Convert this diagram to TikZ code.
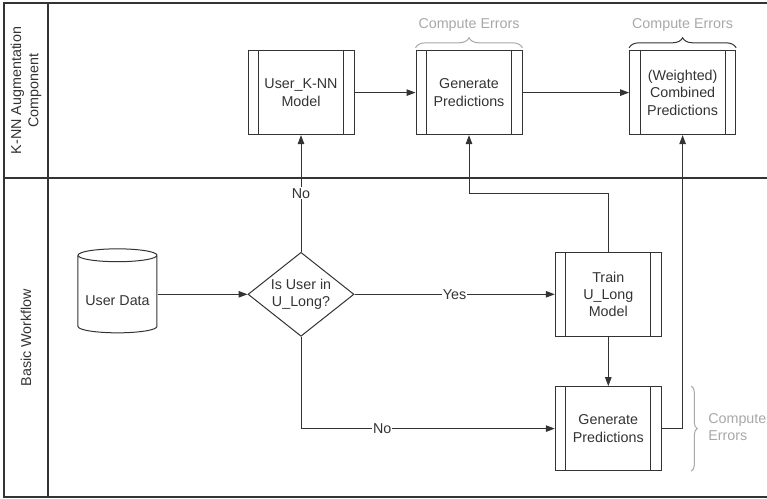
\documentclass[tikz,border=0pt]{standalone}
\usepackage{fontspec}
\setmainfont{Liberation Sans}
\usetikzlibrary{shapes.geometric,arrows.meta,positioning,decorations.pathreplacing,calc}
\definecolor{tinta}{HTML}{333333}
\definecolor{grisnota}{HTML}{A8A8A8}
\newcommand{\letra}{\fontsize{14.3}{17.3}\selectfont}
\tikzset{
  proceso/.style={draw=tinta,line width=1pt,minimum width=106pt,minimum height=84pt,inner sep=0pt,align=center,text=tinta,font=\letra,
    path picture={\draw[tinta,line width=1pt]
      ([xshift=10.6pt]path picture bounding box.north west) -- ([xshift=10.6pt]path picture bounding box.south west)
      ([xshift=-10.6pt]path picture bounding box.north east) -- ([xshift=-10.6pt]path picture bounding box.south east);}},
  decision/.style={diamond,draw=tinta,line width=1pt,minimum width=106pt,minimum height=84pt,aspect=1.27,inner sep=0pt,align=center,text=tinta,font=\letra},
  datos/.style={cylinder,shape border rotate=90,aspect=0.2,draw=tinta,line width=1pt,minimum width=79pt,minimum height=84pt,inner sep=0pt,align=center,text=tinta,font=\letra},
  flecha/.style={-{Triangle[length=9pt,width=6.5pt]},line width=1pt,tinta},
  etiqueta/.style={fill=white,inner sep=1pt,text=tinta,font=\letra},
  nota/.style={text=grisnota,font=\letra,align=left},
  llave/.style={decorate,decoration={brace,amplitude=#1},line width=1pt},
  carril/.style={draw=tinta,line width=1.3pt},
  carriltexto/.style={text=tinta,font=\letra,align=center,rotate=90},
}
\begin{document}
\begin{tikzpicture}[x=1pt,y=-1pt]
  \useasboundingbox (0,0) rectangle (767,498);
  \draw[carril] (4,3) rectangle (790,497);
  \draw[carril] (48,3) -- (48,497);
  \draw[carril] (4,178) -- (790,178);
  \node[carriltexto] (lknn) at (26,90.5) {K-NN Augmentation\\Component};
  \node[carriltexto] (lbasic) at (26,337.5) {Basic Workflow};

  \node[decision] (dec) at (301,294.3) {Is User in\\U\_Long?};
  \node[datos,left=90pt of dec] (data) {\raisebox{-11pt}[0pt][0pt]{User Data}};
  \node[proceso,above=116.7pt of dec] (knn) {User\_K-NN\\Model};
  \node[proceso,right=61pt of knn] (gentop) {Generate\\Predictions};
  \node[proceso,right=106.6pt of gentop] (comb) {(Weighted)\\Combined\\Predictions};
  \node[proceso,right=200.3pt of dec] (train) {Train\\U\_Long\\Model};
  \node[proceso,below=49.3pt of train] (genbot) {Generate\\Predictions};

  \node[nota,above=15pt of gentop.north] (ce1) {Compute Errors};
  \node[nota,above=15pt of comb.north] (ce2) {Compute Errors};
  \node[nota,right=43pt of genbot.east,yshift=1.5pt] (ce3) {Compute\\Errors};
  \draw[llave=10pt,grisnota] ([yshift=2.3pt]gentop.north west) -- ([yshift=2.3pt]gentop.north east);
  \draw[llave=10pt,tinta] ([yshift=2.3pt]comb.north west) -- ([yshift=2.3pt]comb.north east);
  \draw[llave=6pt,grisnota] ($(genbot.north east)+(29.5,0)$) -- ($(genbot.south east)+(29.5,0)$);

  \draw[flecha] (data) -- (dec);
  \draw[flecha] (dec.north) -- node[etiqueta] {No} (knn.south);
  \draw[flecha] (dec.east) -- node[etiqueta] {Yes} (train.west);
  \draw[flecha] (dec.south) |- node[etiqueta,pos=0.66] {No} (genbot.west);
  \draw[flecha] (train) -- (genbot);
  \draw[flecha] (train.north) -- ++(0,-58.7) -| (gentop.south);
  \draw[flecha] (genbot.east) -| (comb.south);
  \draw[flecha] (knn) -- (gentop);
  \draw[flecha] (gentop) -- (comb);
\end{tikzpicture}
\end{document}
